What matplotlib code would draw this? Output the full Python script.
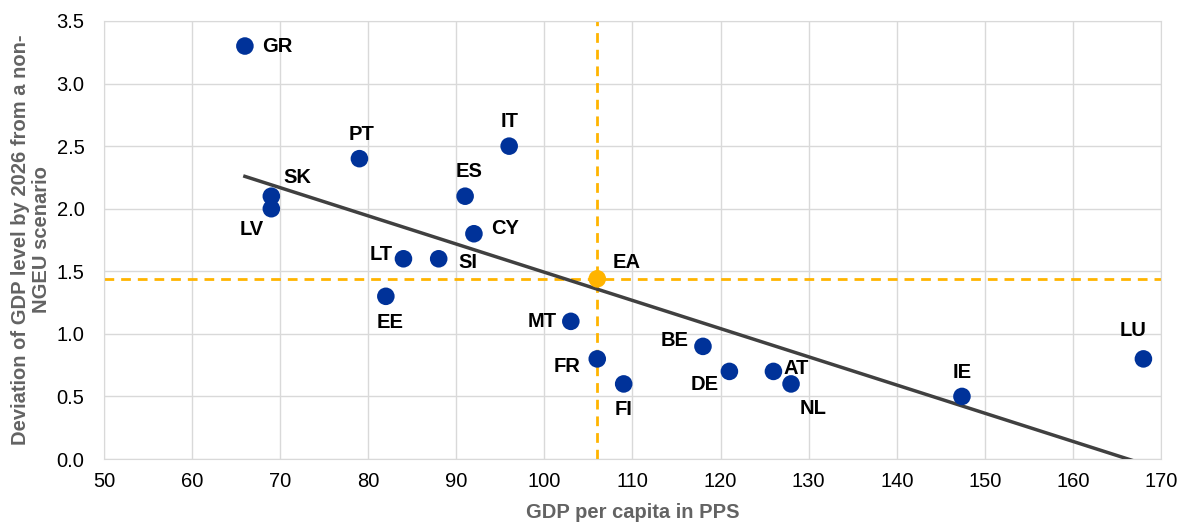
import numpy as np
import matplotlib.pyplot as plt

plt.rcParams['font.family'] = ['Liberation Sans', 'DejaVu Sans']

# Data
countries = ['GR', 'SK', 'LV', 'PT', 'IT', 'ES', 'CY', 'LT', 'SI', 'EE',
             'MT', 'FR', 'FI', 'BE', 'DE', 'AT', 'NL', 'IE', 'LU']
gdp_pps = [66, 69, 69, 79, 96, 91, 92, 84, 88, 82,
           103, 106, 109, 118, 121, 126, 128, 147.4, 168]
deviation = [3.3, 2.1, 2.0, 2.4, 2.5, 2.1, 1.8, 1.6, 1.6, 1.3,
             1.1, 0.8, 0.6, 0.9, 0.7, 0.7, 0.6, 0.5, 0.8]
ea_x, ea_y = 106, 1.44

# label offsets in pixels (dx, dy, ha)
offsets = {
    'GR': (17, 0, 'left'), 'SK': (26, 19, 'center'), 'LV': (-20, -21, 'center'),
    'PT': (2, 24, 'center'), 'IT': (0, 25, 'center'), 'ES': (4, 25, 'center'),
    'CY': (17, 5, 'left'), 'LT': (-11, 4, 'right'), 'SI': (20, -4, 'left'),
    'EE': (4, -26, 'center'), 'MT': (-14, 0, 'right'), 'FR': (-17, -8, 'right'),
    'FI': (0, -26, 'center'), 'BE': (-14, 6, 'right'), 'DE': (-11, -13, 'right'),
    'AT': (10, 3, 'left'), 'NL': (9, -25, 'left'), 'IE': (0, 24, 'center'),
    'LU': (-10, 28, 'center'),
}

blue = '#003299'
orange = '#FFB400'
fs = 14.5

fig = plt.figure(figsize=(11.84, 5.25), dpi=100)
ax = fig.add_axes([0.0878, 0.1257, 0.8928, 0.8343])

ax.set_xlim(50, 170)
ax.set_ylim(0, 3.5)
ax.set_xticks(np.arange(50, 171, 10))
ax.set_yticks(np.arange(0, 3.51, 0.5))
ax.set_yticklabels([f'{v:.1f}' for v in np.arange(0, 3.51, 0.5)])
ax.grid(True, color='#d9d9d9', linewidth=1)
ax.set_axisbelow(True)
for s in ax.spines.values():
    s.set_color('#d9d9d9')
ax.tick_params(length=0, labelsize=fs, pad=9, colors='#000000')
ax.tick_params(axis='y', pad=14)

# Euro area reference lines
ax.axvline(ea_x, color=orange, linestyle=(0, (3.5, 2.5)), linewidth=2, zorder=2)
ax.axhline(ea_y, color=orange, linestyle=(0, (3.5, 2.5)), linewidth=2, zorder=2)

# Trend line
slope, intercept = np.polyfit(gdp_pps, deviation, 1)
xs = np.array([min(gdp_pps), max(gdp_pps)])
ax.plot(xs, slope * xs + intercept, color='#404040', linewidth=2.5, zorder=3)

ax.scatter(gdp_pps, deviation, s=160, color=blue, zorder=4, edgecolors='none')
ax.scatter([ea_x], [ea_y], s=160, color=orange, zorder=4, edgecolors='none')

for c, x, y in zip(countries, gdp_pps, deviation):
    dx, dy, ha = offsets[c]
    ax.annotate(c, (x, y), xytext=(dx, dy), textcoords='offset pixels',
                ha=ha, va='center', fontsize=fs, fontweight='bold')
ax.annotate('EA', (ea_x, ea_y), xytext=(15, 16), textcoords='offset pixels',
            ha='left', va='center', fontsize=fs, fontweight='bold')

ax.set_xlabel('GDP per capita in PPS', fontsize=fs, fontweight='bold',
              color='#636363', labelpad=9)
ax.set_ylabel('Deviation of GDP level by 2026 from a non-\nNGEU scenario',
              fontsize=fs, fontweight='bold', color='#636363', labelpad=4,
              linespacing=1.15)

fig.savefig('out.png', dpi=100)
